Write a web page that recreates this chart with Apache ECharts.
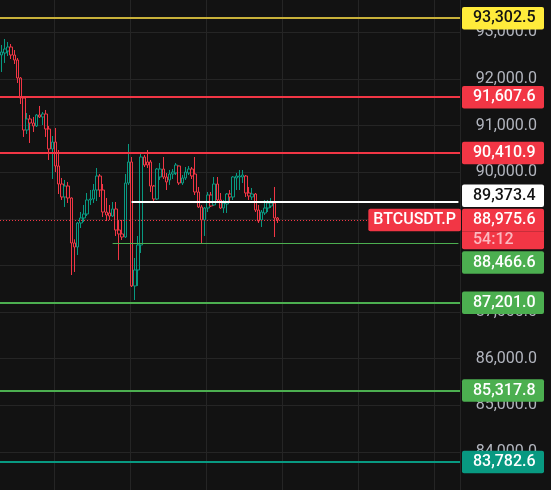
<!DOCTYPE html>
<html><head><meta charset="utf-8">
<script src="https://cdn.jsdelivr.net/npm/echarts@6/dist/echarts.min.js"></script>
<style>html,body{margin:0;padding:0;background:#121212;overflow:hidden}#c{width:551px;height:490px}</style>
</head><body><div id="c"></div>
<script>
// ---- data ----
const opens  = [92513,92556,92599,92685,92513,92406,92020,91591,90905,91141,91055,90991,91227,91184,91248,90926,90497,90647,90133,89747,89468,89704,89447,88482,88396,88911,89018,89103,89404,89425,89618,89918,89618,89146,89125,89060,89211,88760,88675,88610,89768,90219,87560,87903,88439,90326,90219,90219,89704,89425,89897,90068,89897,89833,89961,89983,90133,89768,89876,89983,90068,89961,89575,89254,88975,89232,89511,89297,89747,89404,89232,89318,89532,89468,89876,89897,89897,89918,89554,89468,89532,89189,88975,89125,89232,89275,89339,89018];
const closes = [92578,92642,92685,92513,92406,92020,91591,90905,91141,91055,90991,91227,91184,91248,90926,90497,90647,90133,89747,89468,89704,89447,88482,88396,88911,89018,89103,89404,89425,89618,89918,89618,89146,89082,89060,89211,88760,88675,88610,89768,90219,87560,87903,88439,90326,90154,90154,89704,89425,90068,90068,89897,89790,89961,90004,90154,89768,89876,90004,90068,89918,89575,89254,88975,89232,89511,89275,89747,89404,89232,89339,89532,89468,89897,89918,89918,89940,89554,89490,89532,89189,88953,89146,89232,89339,89339,89018,88975.6];
const lows   = [92149,92342,92492,92427,92320,91913,91462,90755,90819,90626,90862,90969,91163,91012,90755,90262,89854,90004,89532,89404,89254,89339,87795,87860,88224,88803,88932,89060,89297,89339,89382,89468,89039,88953,88975,89039,88632,88117,88546,88589,89726,87538,87259,87560,88267,90111,90090,89575,89339,89404,89833,89854,89618,89726,89854,89940,89726,89726,89833,89940,89854,89511,89232,88482,88632,89146,89254,89275,89339,89211,89125,89125,89361,89404,89618,89618,89768,89468,89404,89404,89146,88911,88825,89082,89146,89232,88610,88911];
const highs  = [92728,92856,92792,92749,92620,92449,92041,91613,91270,91227,91184,91248,91420,91291,91334,90991,90776,90948,90476,89876,89833,89790,89460,88560,88932,89146,89297,89554,89618,89747,90090,89961,89747,89447,89297,89361,89361,88975,88975,89961,90605,90326,88160,88632,90412,90369,90476,90262,89726,90090,90197,90326,89983,90047,90068,90197,90140,89940,90111,90133,90111,90326,89683,89297,89254,89575,89575,89897,89897,89554,89404,89554,89618,89918,89983,90047,90047,89940,89683,89661,89554,89297,89189,89404,89404,89447,89683,89039];

// horizontal price levels (top to bottom)
const levelValues = [93302.5, 91607.6, 90410.9, 89373.4, 88466.6, 87201.0, 85317.8, 83782.6];
const lastPrice = 88975.6;
const symbolName = 'BTCUSDT.P';
const countdown = '54:12';
const yMin = 83000, yMax = 94000, yStep = 1000;
const slotCount = 145; // hourly slots incl. empty space to the right
const categories = Array.from({length: slotCount}, (_, i) => 'h' + i);

// ---- styles ----
const BG = '#121212';
const UP = '#089981', DOWN = '#f23645';
const levelStyles = [
  {line:'#c8b13a', box:'#ffeb3b', text:'#131313', width:2, shift:0},
  {line:'#f23645', box:'#f23645', text:'#ffffff', width:2, shift:0},
  {line:'#f23645', box:'#f23645', text:'#ffffff', width:2, shift:0},
  {line:'#ffffff', box:'#ffffff', text:'#131313', width:2, shift:-5.7, start:41},
  {line:'#4caf50', box:'#4caf50', text:'#ffffff', width:1, shift:18.9, start:35},
  {line:'#4caf50', box:'#4caf50', text:'#ffffff', width:2, shift:0},
  {line:'#4caf50', box:'#4caf50', text:'#ffffff', width:2, shift:0},
  {line:'#089981', box:'#089981', text:'#ffffff', width:2, shift:0}
];
const FONT = 'Roboto';
const BOXW = 500;

function fmt(v) {
  const s = v.toFixed(1);
  const [ip, dp] = s.split('.');
  return ip.replace(/\B(?=(\d{3})+(?!\d))/g, ',') + '.' + dp;
}

function boxLabel(v, st) {
  const rich = {
    p: {backgroundColor: st.box, color: st.text, fontSize: 16, fontFamily: FONT, fontWeight: BOXW,
        width: 64, padding: [0, 7, 0, 11], height: 22.5, lineHeight: 22.5, borderRadius: 2, align: 'left'},
    g: {fontSize: 1, height: Math.abs(st.shift) * 2, lineHeight: Math.abs(st.shift) * 2}
  };
  let f = '{p|' + fmt(v) + '}';
  if (st.shift < 0) f = f + '\n{g| }';
  else if (st.shift > 0) f = '{g| }\n' + f;
  return {show: true, position: 'end', distance: 2, formatter: f, rich: rich};
}

const mlData = [];
levelValues.forEach((v, i) => {
  const st = levelStyles[i];
  const ls = {color: st.line, width: st.width, type: 'solid'};
  if (st.start != null) {
    mlData.push([
      {coord: [st.start, v], lineStyle: ls, label: Object.assign(boxLabel(v, st), {distance: 3.6})},
      {coord: [slotCount - 1, v]}
    ]);
  } else {
    mlData.push({yAxis: v, lineStyle: ls, label: boxLabel(v, st)});
  }
});
// current price: dotted line + price/countdown box
mlData.push({
  yAxis: lastPrice,
  lineStyle: {color: DOWN, width: 1, type: [1, 2]},
  label: {
    show: true, position: 'end', distance: 2,
    formatter: '{g| }\n{p|' + fmt(lastPrice) + '}\n{t|' + countdown + '}',
    rich: {
      g: {fontSize: 1, height: 18, lineHeight: 18},
      p: {backgroundColor: DOWN, color: '#ffffff', fontSize: 16, fontFamily: FONT, fontWeight: BOXW, width: 64,
          padding: [0, 7, 0, 11], height: 22.5, lineHeight: 22.5, borderRadius: [2, 2, 0, 0], align: 'left'},
      t: {backgroundColor: DOWN, color: '#fbb8bf', fontSize: 16, fontFamily: FONT, fontWeight: BOXW, width: 64,
          padding: [0, 7, 0, 11], height: 18, lineHeight: 18, borderRadius: [0, 0, 2, 2], align: 'left'}
    }
  }
});
// symbol tag left of the price box
mlData.push({
  yAxis: lastPrice,
  lineStyle: {color: 'rgba(0,0,0,0)', width: 1},
  label: {
    show: true, position: 'insideEnd', distance: [-1, 0], formatter: symbolName,
    backgroundColor: DOWN, color: '#ffffff', fontSize: 16, fontFamily: FONT, fontWeight: BOXW,
    padding: [3, 5, 2, 5], lineHeight: 17.5, borderRadius: 2
  }
});

const candleData = opens.map((o, i) => [o, closes[i], lows[i], highs[i]]);

const chart = echarts.init(document.getElementById('c'), null, {renderer: 'canvas'});
chart.setOption({
  backgroundColor: BG,
  animation: false,
  grid: {left: 0, right: 91, top: -14.33, bottom: -8.6, containLabel: false, outerBoundsMode: 'none'},
  xAxis: {
    type: 'category', data: categories, boundaryGap: true,
    axisLine: {show: false}, axisTick: {show: false}, axisLabel: {show: false},
    splitLine: {show: true, interval: (idx) => idx % 24 === 17, lineStyle: {color: '#252525', width: 1}}
  },
  yAxis: {
    type: 'value', position: 'right', min: yMin, max: yMax, interval: yStep, scale: true,
    axisLine: {show: false}, axisTick: {show: false},
    splitLine: {show: true, lineStyle: {color: '#252525', width: 1}},
    axisLabel: {show: true, color: '#b2b5be', fontSize: 16, fontFamily: FONT, align: 'right', margin: 77,
      formatter: (v) => fmt(v)}
  },
  series: [{
    type: 'candlestick',
    data: candleData,
    barWidth: 3,
    itemStyle: {color: 'transparent', color0: 'transparent', borderColor: UP, borderColor0: DOWN, borderWidth: 1},
    markLine: {
      silent: true, symbol: ['none', 'none'], animation: false,
      data: mlData
    }
  }]
});
</script>
</body></html>
